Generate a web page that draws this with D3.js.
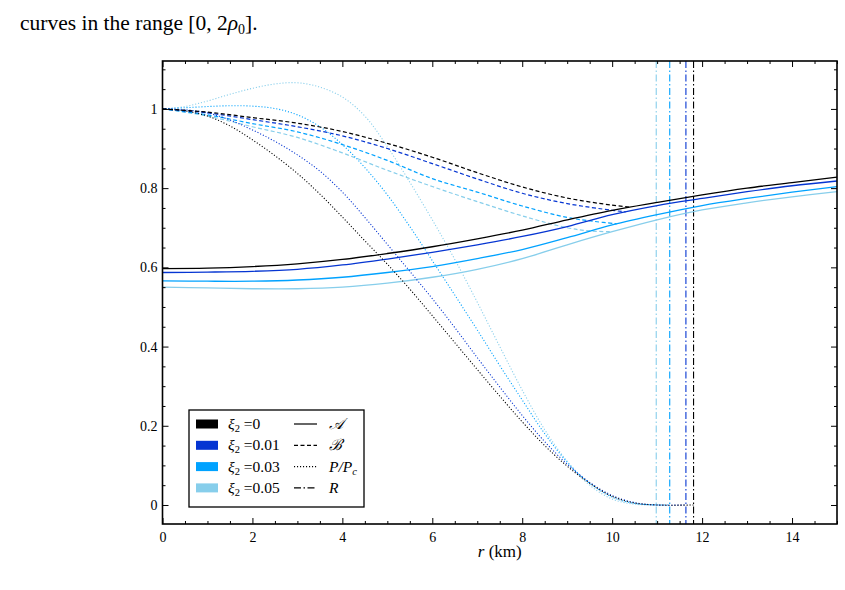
<!DOCTYPE html>
<html>
<head>
<meta charset="utf-8">
<script src="https://cdn.jsdelivr.net/npm/d3@7"></script>
<style>
body { margin: 0; background: #fff; }
svg text { font-family: "Liberation Serif", "DejaVu Serif", serif; fill: #000; }
</style>
</head>
<body>
<div id="chart-area"></div>
<script>
// xi_2 values, colours
var xi2 = ["0", "0.01", "0.03", "0.05"];
var colors = ["#000000", "#0535d2", "#00a2ff", "#87ceeb"];

// A(r) solid
var rA = [0, 1, 2, 3, 4, 5, 6, 7, 8, 9, 10, 11, 12, 13, 14, 15];
var A0 = [0.597, 0.598, 0.602, 0.609, 0.620, 0.635, 0.652, 0.672, 0.694, 0.720, 0.744, 0.764, 0.783, 0.800, 0.814, 0.828];
var A1 = [0.587, 0.588, 0.590, 0.595, 0.606, 0.621, 0.638, 0.657, 0.678, 0.703, 0.733, 0.756, 0.774, 0.791, 0.806, 0.818];
var A2 = [0.566, 0.565, 0.565, 0.568, 0.575, 0.587, 0.602, 0.622, 0.645, 0.675, 0.707, 0.733, 0.756, 0.774, 0.790, 0.804];
var A3 = [0.550, 0.548, 0.546, 0.546, 0.550, 0.560, 0.575, 0.595, 0.622, 0.657, 0.690, 0.720, 0.745, 0.763, 0.778, 0.791];

// B(r) dashed (ends where it meets A)
var rB0 = [0, 1, 2, 3, 4, 5, 6, 7, 8, 9, 10, 10.4];
var B0 = [1, 0.992, 0.978, 0.964, 0.943, 0.913, 0.878, 0.839, 0.803, 0.775, 0.757, 0.752];
var rB1 = [0, 1, 2, 3, 4, 5, 6, 7, 8, 9, 10, 10.3];
var B1 = [1, 0.990, 0.973, 0.955, 0.932, 0.900, 0.862, 0.823, 0.787, 0.761, 0.744, 0.740];
var rB2 = [0, 1, 2, 3, 4, 5, 6, 7, 8, 9, 9.6, 10.1];
var B2 = [1, 0.985, 0.963, 0.942, 0.910, 0.870, 0.824, 0.790, 0.755, 0.726, 0.716, 0.710];
var rB3 = [0, 1, 2, 3, 4, 5, 6, 7, 8, 9, 9.5, 10];
var B3 = [1, 0.982, 0.955, 0.928, 0.889, 0.845, 0.804, 0.766, 0.730, 0.700, 0.692, 0.690];

// P/Pc dotted
var rP = [0, 0.5, 1, 1.5, 2, 2.5, 3, 3.5, 4, 4.5, 5, 5.5, 6, 6.5, 7, 7.5, 8, 8.5, 9, 9.5, 10, 10.5, 11];
var P0 = [1, 0.995, 0.982, 0.957, 0.922, 0.882, 0.837, 0.785, 0.727, 0.667, 0.608, 0.545, 0.478, 0.410, 0.342, 0.275, 0.210, 0.150, 0.098, 0.055, 0.022, 0.005, 0];
var P1 = [1, 0.998, 0.990, 0.972, 0.947, 0.918, 0.884, 0.843, 0.790, 0.726, 0.658, 0.590, 0.521, 0.448, 0.372, 0.298, 0.226, 0.160, 0.103, 0.057, 0.024, 0.006, 0];
var P2 = [1, 1.003, 1.006, 1.008, 1.007, 1.001, 0.985, 0.955, 0.910, 0.852, 0.783, 0.703, 0.617, 0.530, 0.442, 0.352, 0.265, 0.180, 0.108, 0.055, 0.020, 0.004, 0];
var P3 = [1, 1.006, 1.020, 1.037, 1.052, 1.063, 1.066, 1.055, 1.030, 0.982, 0.905, 0.815, 0.720, 0.620, 0.512, 0.400, 0.290, 0.190, 0.110, 0.050, 0.015, 0.002, 0];

// star radius R (km)
var R = [11.81, 11.64, 11.28, 10.98];

var xTicks = [0, 2, 4, 6, 8, 10, 12, 14];
var yTicks = [0, 0.2, 0.4, 0.6, 0.8, 1];

var width = 845, height = 590;
var box = { left: 162.5, right: 837, top: 61, bottom: 524 };

var svg = d3.select("#chart-area")
    .append("svg")
        .attr("width", width)
        .attr("height", height);

// caption line above the figure
var cap = svg.append("text")
    .attr("x", 20)
    .attr("y", 30)
    .style("font-size", "21.5px");
cap.append("tspan").text("curves in the range [0, 2");
cap.append("tspan").attr("font-style", "italic").text("ρ");
cap.append("tspan").style("font-size", "14px").attr("dy", 4).text("0");
cap.append("tspan").attr("dy", -4).text("].");

var x = d3.scaleLinear().domain([0, 15]).range([box.left, box.right]);
var y = d3.scaleLinear().domain([-0.048, 1.121]).range([box.bottom, box.top]);

var line = d3.line()
    .x(function(d){ return x(d[0]); })
    .y(function(d){ return y(d[1]); })
    .curve(d3.curveCatmullRom.alpha(0.5));

var As = [A0, A1, A2, A3];
var rBs = [rB0, rB1, rB2, rB3];
var Bs = [B0, B1, B2, B3];
var Ps = [P0, P1, P2, P3];

var plot = svg.append("g");

// R lines (dash-dot)
plot.selectAll(".rline")
    .data(R)
    .enter()
    .append("line")
        .attr("class", "rline")
        .attr("x1", function(d){ return x(d); })
        .attr("x2", function(d){ return x(d); })
        .attr("y1", box.top)
        .attr("y2", box.bottom)
        .attr("stroke", function(d, i){ return colors[i]; })
        .attr("stroke-width", 1.1)
        .attr("stroke-dasharray", "7,2.5,1.5,2.5");

for (var i = 3; i >= 0; i--) {
    var pPts = rP.map(function(r, j){ return [r, Ps[i][j]]; });
    pPts.push([R[i], 0]);
    plot.append("path")
        .attr("d", line(pPts))
        .attr("fill", "none")
        .attr("stroke", colors[i])
        .attr("stroke-width", 1.1)
        .attr("stroke-dasharray", "1.1,1.9");

    var bPts = rBs[i].map(function(r, j){ return [r, Bs[i][j]]; });
    plot.append("path")
        .attr("d", line(bPts))
        .attr("fill", "none")
        .attr("stroke", colors[i])
        .attr("stroke-width", 1.2)
        .attr("stroke-dasharray", "4,2.5");

    var aPts = rA.map(function(r, j){ return [r, As[i][j]]; });
    plot.append("path")
        .attr("d", line(aPts))
        .attr("fill", "none")
        .attr("stroke", colors[i])
        .attr("stroke-width", 1.3);
}

// Axes: ticks inside on all four sides
var xMinor = d3.range(0, 15.01, 0.5).filter(function(d){ return d % 2 !== 0; });
var yMinor = d3.range(0, 23).map(function(k){ return +(k * 0.05).toFixed(2); })
    .filter(function(d, k){ return k % 4 !== 0; });

function addAxis(axis, tr, cls) {
    var g = svg.append("g")
        .attr("class", cls)
        .attr("transform", tr)
        .call(axis);
    g.select(".domain").remove();
    g.attr("font-family", null).attr("font-size", null);
    g.selectAll("line").attr("stroke", "#000").attr("stroke-width", 1);
    g.selectAll("text").style("font-size", "14px").attr("fill", "#000");
    return g;
}

addAxis(d3.axisBottom(x).tickValues(xTicks).tickSize(-6).tickPadding(8).tickFormat(d3.format("d")),
    "translate(0," + box.bottom + ")", "x axis");
addAxis(d3.axisBottom(x).tickValues(xMinor).tickSize(-3).tickFormat(""),
    "translate(0," + box.bottom + ")", "x minor");
addAxis(d3.axisTop(x).tickValues(xTicks).tickSize(-6).tickFormat(""),
    "translate(0," + box.top + ")", "x top");
addAxis(d3.axisTop(x).tickValues(xMinor).tickSize(-3).tickFormat(""),
    "translate(0," + box.top + ")", "x top minor");

addAxis(d3.axisLeft(y).tickValues(yTicks).tickSize(-6).tickPadding(5).tickFormat(function(d){ return String(d); }),
    "translate(" + box.left + ",0)", "y axis");
addAxis(d3.axisLeft(y).tickValues(yMinor).tickSize(-3).tickFormat(""),
    "translate(" + box.left + ",0)", "y minor");
addAxis(d3.axisRight(y).tickValues(yTicks).tickSize(-6).tickFormat(""),
    "translate(" + box.right + ",0)", "y right");
addAxis(d3.axisRight(y).tickValues(yMinor).tickSize(-3).tickFormat(""),
    "translate(" + box.right + ",0)", "y right minor");

// Frame
svg.append("rect")
    .attr("x", box.left)
    .attr("y", box.top)
    .attr("width", box.right - box.left)
    .attr("height", box.bottom - box.top)
    .attr("fill", "none")
    .attr("stroke", "#000")
    .attr("stroke-width", 1.6);

// X Label
var xl = svg.append("text")
    .attr("x", (box.left + box.right) / 2)
    .attr("y", 557)
    .style("font-size", "17px")
    .attr("text-anchor", "middle");
xl.append("tspan").attr("font-style", "italic").text("r");
xl.append("tspan").text(" (km)");

// Legend
var legend = svg.append("g").attr("transform", "translate(189,410)");
legend.append("rect")
    .attr("width", 175)
    .attr("height", 97)
    .attr("fill", "#fff")
    .attr("stroke", "#000")
    .attr("stroke-width", 1.3);

var dashes = [null, "4,2.5", "1.1,1.9", "7,2.5,1.5,2.5"];

xi2.forEach(function(v, i) {
    var row = legend.append("g").attr("transform", "translate(0," + (14 + i * 21.3) + ")");
    row.append("rect")
        .attr("x", 7)
        .attr("y", -4.5)
        .attr("width", 22)
        .attr("height", 9)
        .attr("fill", colors[i]);
    var t = row.append("text")
        .attr("x", 39)
        .attr("y", 5)
        .style("font-size", "15.5px");
    t.append("tspan").attr("font-style", "italic").text("ξ");
    t.append("tspan").style("font-size", "10.5px").attr("dy", 3).text("2");
    t.append("tspan").attr("dy", -3).text(" =" + v);

    row.append("line")
        .attr("x1", 105)
        .attr("x2", 128)
        .attr("stroke", "#000")
        .attr("stroke-width", 1.2)
        .attr("stroke-dasharray", dashes[i]);
    var s = row.append("text")
        .attr("x", 140)
        .attr("y", 5)
        .style("font-size", "15.5px")
        .attr("font-style", "italic");
    if (i === 0) s.text("𝒜");
    if (i === 1) s.text("ℬ");
    if (i === 2) {
        s.append("tspan").text("P/P");
        s.append("tspan").style("font-size", "10.5px").attr("dy", 3).text("c");
    }
    if (i === 3) s.text("R");
});
</script>
</body>
</html>
